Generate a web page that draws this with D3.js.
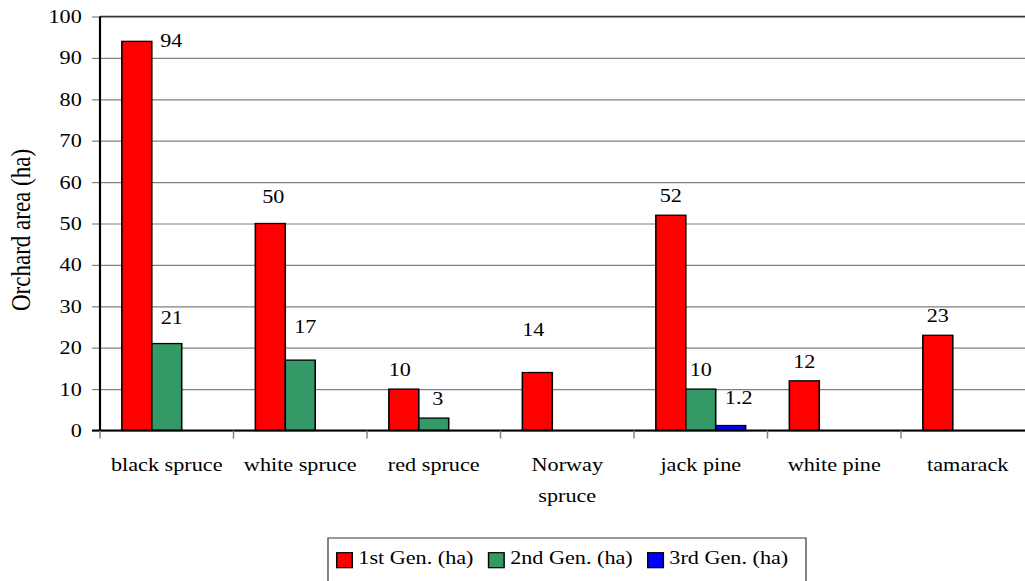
<!DOCTYPE html>
<html>
<head>
<meta charset="utf-8">
<script src="https://cdn.jsdelivr.net/npm/d3@7"></script>
<style>
body { margin: 0; background: #fff; }
svg { display: block; }
text { font-family: "Liberation Serif", "Times New Roman", serif; fill: #000; }
</style>
</head>
<body>
<svg id="chart" width="1025" height="581"></svg>
<script>
// Seed orchard area by species and generation

var categories = ["black spruce", "white spruce", "red spruce", "Norway spruce", "jack pine", "white pine", "tamarack"];
var gen1 = [94, 50, 10, 14, 52, 12, 23];
var gen2 = [21, 17, 3, null, 10, null, null];
var gen3 = [null, null, null, null, 1.2, null, null];
var seriesNames = ["1st Gen. (ha)", "2nd Gen. (ha)", "3rd Gen. (ha)"];
var yTicks = [0, 10, 20, 30, 40, 50, 60, 70, 80, 90, 100];

var colors = ["#ff0000", "#339966", "#0000ff"];

// the original is wider than it is tall, so draw narrow and let viewBox stretch it
var sx = 1.2;
var W = 1025, H = 581;

var svg = d3.select("#chart")
    .attr("viewBox", "0 0 " + (W / sx) + " " + H)
    .attr("preserveAspectRatio", "none");

var plotLeft = 100 / sx,
    plotRight = 1034.5 / sx,
    plotTop = 16.5,
    plotBottom = 430.5;

var x = d3.scaleBand().domain(categories).range([plotLeft, plotRight]).padding(0);
var xs = d3.scaleBand().domain([0, 1, 2]).range([0, x.bandwidth()]).paddingInner(0).paddingOuter(0.73);
var y = d3.scaleLinear().domain([0, 100]).range([plotBottom, plotTop]);

var series = [gen1, gen2, gen3].map(function(vals, s) {
    return {name: seriesNames[s], color: colors[s], values: vals};
});

// gridlines
svg.append("g")
    .attr("transform", "translate(" + plotLeft + ",0)")
    .call(d3.axisLeft(y).tickValues(yTicks).tickSize(-(plotRight - plotLeft)).tickFormat(""))
    .call(function(g) { g.select(".domain").remove(); })
    .selectAll("line")
    .attr("stroke", "#808080")
    .attr("stroke-width", 1.2);

// plot frame top edge
svg.append("line")
    .attr("x1", plotLeft).attr("x2", plotRight)
    .attr("y1", plotTop).attr("y2", plotTop)
    .attr("stroke", "#333").attr("stroke-width", 1.5);

// y axis with ticks and labels
var yAxis = svg.append("g")
    .attr("transform", "translate(" + plotLeft + ",0)")
    .call(d3.axisLeft(y).tickValues(yTicks).tickSize(8 / sx).tickPadding(8.5));
yAxis.select(".domain").remove();
yAxis.selectAll("line").attr("stroke", "#808080").attr("stroke-width", 1.2);
yAxis.selectAll("text")
    .style("font-family", "'Liberation Serif', serif")
    .style("font-size", "18.5px")
    .attr("fill", "#000");

// bars
var barData = [];
categories.forEach(function(c, i) {
    series.forEach(function(sr, s) {
        if (sr.values[i] != null) barData.push({cat: c, i: i, s: s, v: sr.values[i], color: sr.color});
    });
});

svg.selectAll(".bar")
    .data(barData)
    .enter()
    .append("rect")
    .attr("class", "bar")
    .attr("x", function(d) { return x(d.cat) + xs(d.s); })
    .attr("y", function(d) { return y(d.v); })
    .attr("width", xs.bandwidth())
    .attr("height", function(d) { return plotBottom - y(d.v); })
    .attr("fill", function(d) { return d.color; })
    .attr("stroke", "#000")
    .attr("stroke-width", 1.3);

// value labels, a few moved the way the original places them
var labelNudge = {
    "0,0": [34.5, 19], "0,1": [3, -7], "1,0": [5, -6.5], "1,1": [5, -14],
    "0,2": [-4, 0], "1,2": [4, 0], "0,3": [-4, -23.5], "2,4": [8, -8.5]
};

svg.selectAll(".val")
    .data(barData)
    .enter()
    .append("text")
    .attr("class", "val")
    .attr("text-anchor", "middle")
    .style("font-size", "18.5px")
    .attr("x", function(d) {
        var n = labelNudge[d.s + "," + d.i] || [0, 0];
        return x(d.cat) + xs(d.s) + xs.bandwidth() / 2 + n[0] / sx;
    })
    .attr("y", function(d) {
        var n = labelNudge[d.s + "," + d.i] || [0, 0];
        return y(d.v) - 13 + n[1];
    })
    .text(function(d) { return d.v; });

// x axis line
svg.append("line")
    .attr("x1", plotLeft - 8 / sx).attr("x2", plotRight)
    .attr("y1", plotBottom).attr("y2", plotBottom)
    .attr("stroke", "#000").attr("stroke-width", 2);

// y axis line
svg.append("line")
    .attr("x1", plotLeft).attr("x2", plotLeft)
    .attr("y1", plotTop).attr("y2", plotBottom)
    .attr("stroke", "#000").attr("stroke-width", 1.8);

// category boundary ticks
var bounds = categories.map(function(c) { return x(c); }).concat([plotRight]);
svg.selectAll(".xtick")
    .data(bounds)
    .enter()
    .append("line")
    .attr("class", "xtick")
    .attr("x1", function(d) { return d; }).attr("x2", function(d) { return d; })
    .attr("y1", plotBottom).attr("y2", plotBottom + 8)
    .attr("stroke", "#808080").attr("stroke-width", 1.2);

// category labels
var xAxis = svg.append("g")
    .attr("transform", "translate(0," + plotBottom + ")")
    .call(d3.axisBottom(x).tickSize(0));
xAxis.select(".domain").remove();
xAxis.selectAll("text")
    .style("font-family", "'Liberation Serif', serif")
    .style("font-size", "18.5px")
    .attr("fill", "#000")
    .attr("y", 40.5)
    .attr("dy", 0)
    .each(function(d) {
        var t = d3.select(this);
        if (this.getComputedTextLength() < x.bandwidth() - 6) return;
        var words = d.split(" ");
        t.text(null);
        words.forEach(function(w, k) {
            t.append("tspan").attr("x", 0).attr("dy", k === 0 ? 0 : 31.5).text(w);
        });
    });

// y axis title
svg.append("text")
    .attr("transform", "translate(" + (30 / sx) + ",230) rotate(-90)")
    .attr("text-anchor", "middle")
    .style("font-size", "23px")
    .text("Orchard area (ha)");

// legend
var legend = svg.append("g");
legend.append("rect")
    .attr("x", 328 / sx).attr("y", 538)
    .attr("width", (806 - 328) / sx).attr("height", 60)
    .attr("fill", "#fff")
    .attr("stroke", "#555").attr("stroke-width", 1.2);

var lx = 336.7 / sx;
series.forEach(function(sr) {
    legend.append("rect")
        .attr("x", lx).attr("y", 552.7)
        .attr("width", 15.6 / sx).attr("height", 15)
        .attr("fill", sr.color)
        .attr("stroke", "#000").attr("stroke-width", 1.2);
    var t = legend.append("text")
        .attr("x", lx + 21.6 / sx).attr("y", 564)
        .style("font-size", "18.5px")
        .text(sr.name);
    lx = lx + 21.6 / sx + t.node().getComputedTextLength() + 15 / sx;
});
</script>
</body>
</html>
